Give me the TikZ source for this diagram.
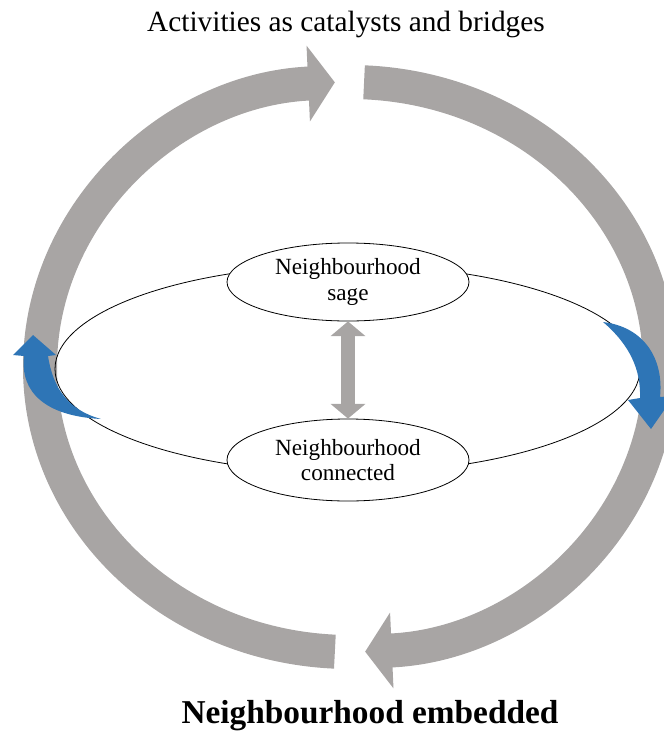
\documentclass[tikz,border=0pt]{standalone}
\usepackage{fontspec}
\setmainfont{Liberation Serif}
\usepackage{tikz}
\usetikzlibrary{shapes.geometric, arrows.meta, positioning, calc}
\definecolor{ringgray}{RGB}{168,165,164}
\definecolor{flowblue}{RGB}{46,117,182}
\tikzset{
  ringarrow/.style={draw=ringgray, line width=25.5pt,
    -{Triangle[width=56pt, length=20pt]}},
  stage/.style={ellipse, draw=black, fill=white, line width=0.6pt,
    minimum width=181.5pt, align=center, inner sep=0pt,
    font=\fontsize{17.4}{19}\selectfont},
  loopline/.style={ellipse, draw=black, line width=0.6pt, inner sep=0pt,
    minimum width=438.75pt, minimum height=156pt},
  dblarrow/.style={draw=ringgray, line width=10.5pt,
    {Triangle[width=25.5pt, length=11pt]}-{Triangle[width=25.5pt, length=11pt]}},
  turn/.style={fill=flowblue, draw=none}
}

\begin{document}
\begin{tikzpicture}[x=0.75pt, y=0.75pt]
  \useasboundingbox (0,0) rectangle (664,-732);
  % big grey ring, two halves
  \coordinate (C) at (350,-367);
  \draw[ringarrow] ($(C)+(267.2:310 and 285)$) arc[start angle=267.2, end angle=92.8, x radius=310, y radius=285];
  \draw[ringarrow] ($(C)+(87.4:310 and 285)$) arc[start angle=87.4, end angle=-87.2, x radius=310, y radius=285];
  % inner loop and the two stages
  \node[loopline] (loop) at (347.5,-369) {};
  \node[stage, minimum height=58.5pt] (sage) at (348,-282) {Neighbourhood\\sage};
  \node[stage, minimum height=61.5pt] (conn) at (348,-460) {Neighbourhood\\connected};
  \draw[dblarrow] (sage) -- (conn);
  % blue turning arrows
  \fill[turn] (33,-335) -- (56,-355) -- (48,-356) .. controls (53,-388) and (68,-410) .. (101,-419)
    .. controls (45,-416) and (20,-392) .. (24,-356) -- (13,-355) -- cycle;
  \fill[turn] (603,-322) .. controls (645,-327) and (664,-360) .. (660,-397) -- (674,-396) -- (651,-429)
    -- (628,-400) -- (640,-398) .. controls (641,-370) and (630,-345) .. (603,-322) -- cycle;
  % labels
  \node[anchor=base, font=\fontsize{22}{26}\selectfont] (top) at (346,-31) {Activities as catalysts and bridges};
  \node[anchor=base, font=\fontsize{25}{30}\selectfont\bfseries] (bottom) at (370,-723) {Neighbourhood embedded};
\end{tikzpicture}
\end{document}
